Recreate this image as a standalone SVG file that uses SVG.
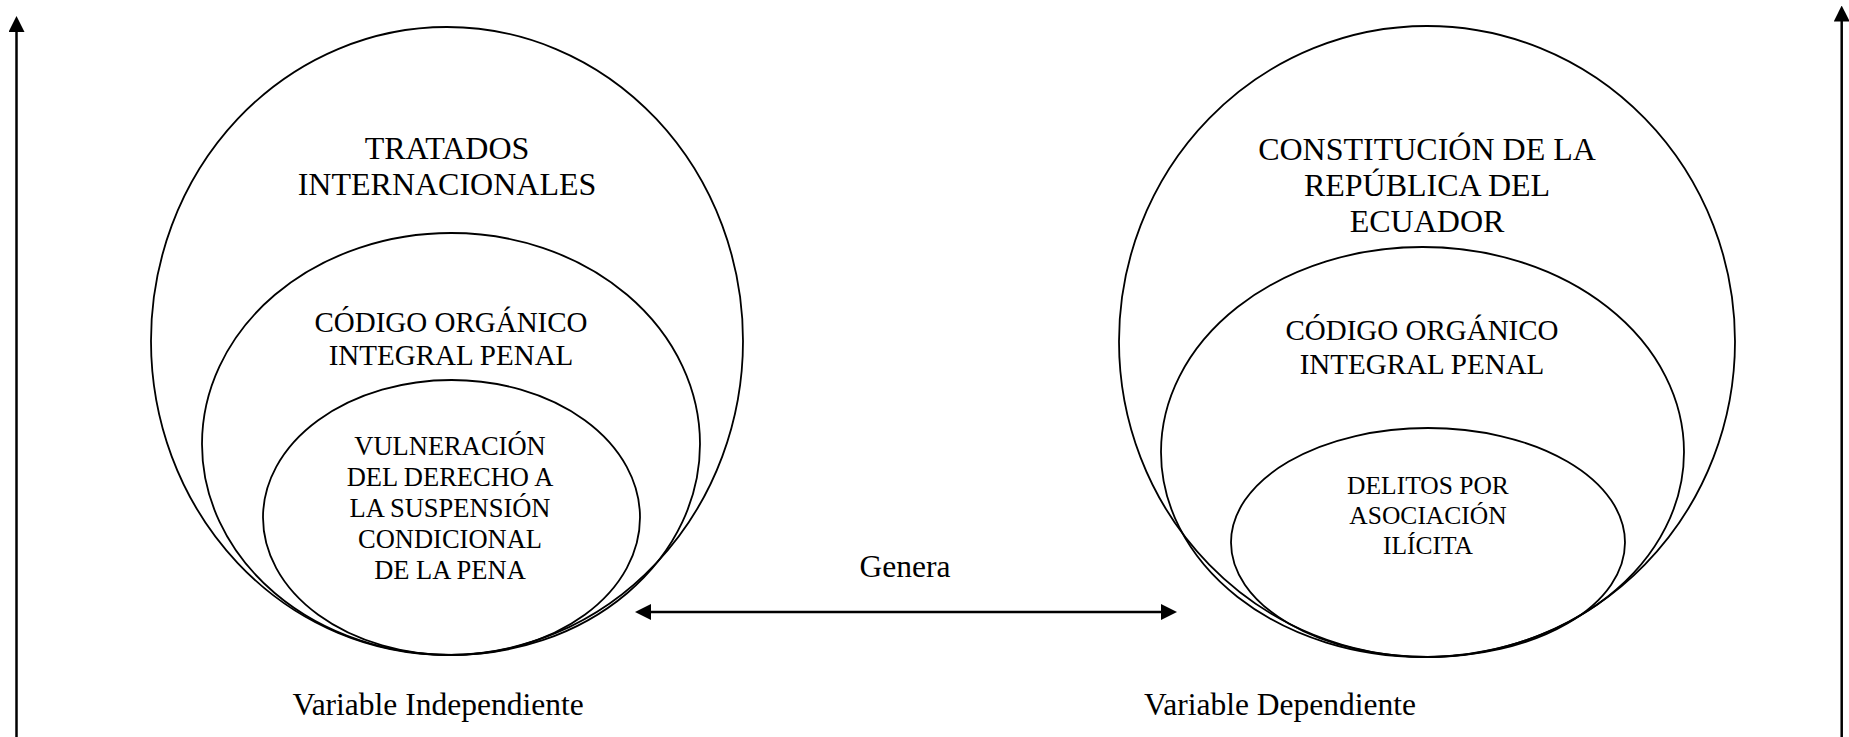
<svg xmlns="http://www.w3.org/2000/svg" width="1849" height="737" viewBox="0 0 1849 737">
<style>
.sh{fill:none;stroke:#000;stroke-width:1.8}
.t{font-family:"Liberation Serif","Times New Roman",serif;fill:#000;text-anchor:middle}
.big{font-size:32px}
.mid{font-size:29px}
.sm{font-size:26.5px}
.sm2{font-size:25.5px}
.lab{font-size:31.5px}
.ar{stroke:#000;stroke-width:2.5;fill:none}
</style>
<defs>
<marker id="ah" markerUnits="userSpaceOnUse" markerWidth="16" markerHeight="16" viewBox="0 0 16 16" refX="2" refY="8" orient="auto-start-reverse">
<path d="M0,0 L16,8 L0,16 Z" fill="#000"/>
</marker>
</defs>
<rect width="1849" height="737" fill="#fff"/>

<g id="connectors">
<line class="ar" x1="16.5" y1="737" x2="16.5" y2="30" marker-end="url(#ah)"/>
<line class="ar" x1="1841.7" y1="737" x2="1841.7" y2="19.5" marker-end="url(#ah)"/>
<line class="ar" x1="649" y1="612" x2="1163" y2="612" marker-start="url(#ah)" marker-end="url(#ah)"/>
</g>

<g id="tratados">
<ellipse class="sh" cx="447" cy="341" rx="296" ry="314"/>
<text class="t big" x="447" y="159">TRATADOS</text>
<text class="t big" x="447" y="195">INTERNACIONALES</text>
</g>
<g id="coip-left">
<ellipse class="sh" cx="451" cy="444" rx="249" ry="211"/>
<text class="t mid" x="451" y="332">CÓDIGO ORGÁNICO</text>
<text class="t mid" x="451" y="365">INTEGRAL PENAL</text>
</g>
<g id="vulneracion">
<ellipse class="sh" cx="451.5" cy="517.5" rx="188.5" ry="137.5"/>
<text class="t sm" x="450" y="455">VULNERACIÓN</text>
<text class="t sm" x="450" y="486">DEL DERECHO A</text>
<text class="t sm" x="450" y="517">LA SUSPENSIÓN</text>
<text class="t sm" x="450" y="548">CONDICIONAL</text>
<text class="t sm" x="450" y="579">DE LA PENA</text>
</g>

<g id="constitucion">
<ellipse class="sh" cx="1427" cy="341.5" rx="308" ry="315.5"/>
<text class="t big" x="1427" y="160">CONSTITUCIÓN DE LA</text>
<text class="t big" x="1427" y="196">REPÚBLICA DEL</text>
<text class="t big" x="1427" y="232">ECUADOR</text>
</g>
<g id="coip-right">
<ellipse class="sh" cx="1422.5" cy="452" rx="261.5" ry="205"/>
<text class="t mid" x="1422" y="340">CÓDIGO ORGÁNICO</text>
<text class="t mid" x="1422" y="374">INTEGRAL PENAL</text>
</g>
<g id="delitos">
<ellipse class="sh" cx="1428" cy="542.5" rx="197" ry="114.5"/>
<text class="t sm2" x="1428" y="494">DELITOS POR</text>
<text class="t sm2" x="1428" y="524">ASOCIACIÓN</text>
<text class="t sm2" x="1428" y="554">ILÍCITA</text>
</g>

<g id="labels">
<text class="t lab" x="905" y="577">Genera</text>
<text class="t lab" x="438" y="715">Variable Independiente</text>
<text class="t lab" x="1280" y="715">Variable Dependiente</text>
</g>
</svg>
